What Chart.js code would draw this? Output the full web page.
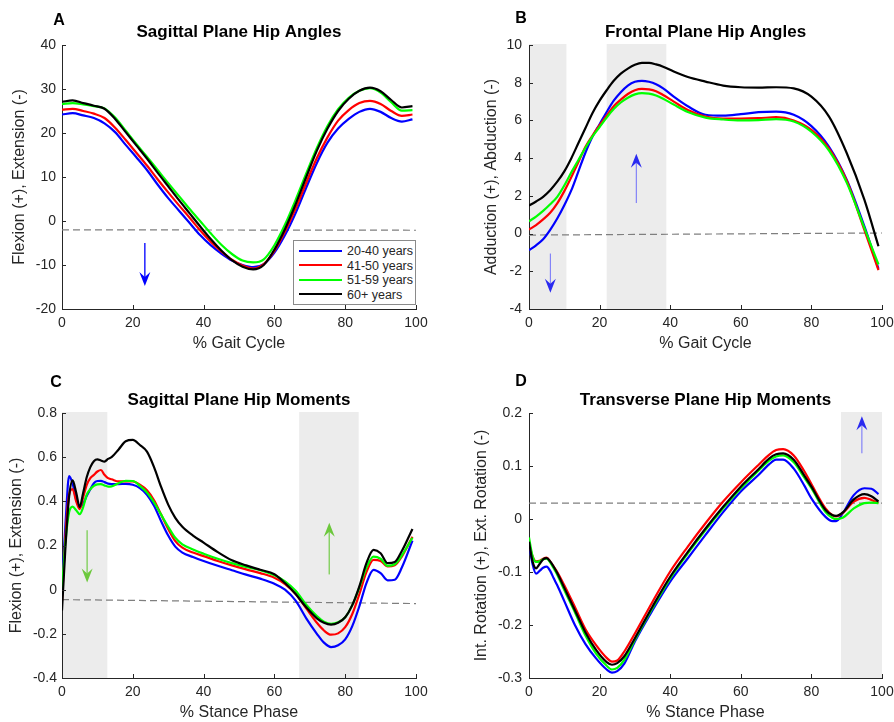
<!DOCTYPE html>
<html>
<head>
<meta charset="utf-8">
<script src="https://cdn.jsdelivr.net/npm/chart.js@4.4.1/dist/chart.umd.min.js"></script>
<style>
  html,body{margin:0;padding:0;background:#fff;}
  body{width:894px;height:722px;position:relative;overflow:hidden;font-family:'Liberation Sans',Arial,Helvetica,sans-serif;}
  .pane{position:absolute;width:447px;height:361px;}
  .pane canvas{display:block;}
  .letter{position:absolute;font-weight:bold;font-size:16px;color:#000;transform:translate(-50%,-50%);line-height:1;}
  .legend{position:absolute;left:293px;top:240px;width:123px;height:65px;box-sizing:border-box;border:1px solid #8a8a8a;background:#fff;padding-top:3px;font-size:12.5px;color:#262626;}
  .legend .row{height:14.5px;line-height:14.5px;white-space:nowrap;}
  .legend .sw{display:inline-block;width:43px;height:2px;vertical-align:middle;margin:0 5px 0 5px;position:relative;top:-1px;}
</style>
</head>
<body>
<div class="pane" style="left:0;top:0"><canvas id="cA" width="447" height="361"></canvas></div>
<div class="pane" style="left:447px;top:0"><canvas id="cB" width="447" height="361"></canvas></div>
<div class="pane" style="left:0;top:361px"><canvas id="cC" width="447" height="361"></canvas></div>
<div class="pane" style="left:447px;top:361px"><canvas id="cD" width="447" height="361"></canvas></div>

<div class="letter" style="left:59px;top:20px">A</div>
<div class="letter" style="left:521px;top:18px">B</div>
<div class="letter" style="left:56px;top:382px">C</div>
<div class="letter" style="left:521px;top:381px">D</div>

<div class="legend" id="legend"></div>

<script>
// ---------------- data ----------------
const groupLabels = ['20-40 years', '41-50 years', '51-59 years', '60+ years'];
const groupColors = ['#0000ff', '#ff0000', '#00ff00', '#000000'];

// A: Sagittal Plane Hip Angles (% gait cycle)
const xA = [0,3,6,9,12,15,18,21,24,27,30,33,36,39,42,45,48,51,54,57,60,63,66,69,72,75,78,81,84,87,90,93,96,99];
const sagAng_20_40 = [24.2,24.5,24.0,23.4,22.2,20.2,17.3,14.5,11.6,8.3,5.2,2.4,-0.4,-3.2,-5.5,-7.4,-9.0,-10.0,-10.5,-9.8,-7.2,-3.2,1.8,7.6,13.2,17.8,21.0,23.2,24.8,25.5,24.8,23.4,22.6,23.1];
const sagAng_41_50 = [25.3,25.5,25.0,24.4,23.4,21.2,18.4,15.5,12.6,9.5,6.5,3.6,0.8,-2.1,-4.7,-6.9,-8.8,-10.1,-10.8,-9.8,-6.8,-2.4,2.8,8.7,14.3,19.0,22.8,25.2,26.8,27.3,26.6,25.0,23.9,24.2];
const sagAng_51_59 = [26.6,26.8,26.5,26.1,25.6,23.5,20.5,17.5,14.6,11.6,8.6,5.7,2.8,0.0,-2.8,-5.4,-7.5,-9.0,-9.4,-8.7,-5.5,-0.8,4.8,10.8,16.6,21.6,25.4,28.0,29.6,30.2,29.2,27.0,25.1,25.2];
const sagAng_60p   = [27.1,27.4,26.8,26.2,25.5,23.2,20.2,17.2,14.2,11.0,7.9,4.8,1.8,-1.2,-4.1,-6.7,-8.9,-10.4,-11.0,-10.0,-6.5,-1.8,3.8,10.0,16.0,21.0,25.0,27.8,29.6,30.3,29.5,27.5,25.8,26.1];
const refA_x = [0, 100], refA_y = [-2.0, -2.1];
const shadeA = [];
const arrowsA = [[23.4, -5.0, -14.8]];

// B: Frontal Plane Hip Angles
const xB = [0,2,4,6,8,10,12,14,16,18,20,22,24,26,28,30,32,34,36,38,41,45,50,55,60,65,70,75,80,85,90,95,99];
const froAng_20_40 = [-0.88,-0.62,-0.3,0.2,0.8,1.5,2.3,3.3,4.3,5.15,5.8,6.45,7.05,7.5,7.85,8.05,8.1,8.05,7.92,7.7,7.26,6.75,6.3,6.25,6.33,6.44,6.47,6.3,5.7,4.6,2.86,0.39,-1.87];
const froAng_41_50 = [0.21,0.45,0.75,1.1,1.6,2.25,3.0,3.8,4.6,5.2,5.75,6.25,6.75,7.1,7.4,7.6,7.67,7.65,7.55,7.35,7.0,6.55,6.2,6.1,6.1,6.12,6.17,6.0,5.5,4.5,2.8,0.2,-1.94];
const froAng_51_59 = [0.65,0.9,1.2,1.55,1.95,2.55,3.25,3.9,4.55,5.15,5.65,6.15,6.6,6.95,7.2,7.38,7.45,7.42,7.32,7.15,6.84,6.45,6.15,6.05,6.0,6.02,6.07,5.94,5.4,4.4,2.7,0.3,-1.64];
const froAng_60p   = [1.48,1.7,1.95,2.3,2.75,3.3,4.0,4.8,5.6,6.4,7.05,7.6,8.1,8.48,8.75,8.95,9.05,9.05,8.97,8.85,8.59,8.3,8.06,7.85,7.76,7.74,7.76,7.7,7.26,6.2,4.27,1.8,-0.67];
const refB_x = [0, 100], refB_y = [-0.08, 0.03];
const shadeB = [[0, 10.6], [22, 38.9]];
const arrowsB = [[6.05, -1.06, -3.14], [30.4, 1.62, 4.23]];

// C: Sagittal Plane Hip Moments (% stance phase)
const xC = [0,1,2,3,4,5,6,7,8,9,10,11,12,13,14,16,18,20,22,24,26,28,30,32,34,37,40,44,48,52,56,60,63,66,69,72,74,76,78,80,82,84,86,88,90,92,94,96,99];
const sagMom_20_40 = [0.02,0.3,0.514,0.48,0.41,0.373,0.39,0.425,0.455,0.482,0.492,0.493,0.487,0.48,0.478,0.478,0.479,0.475,0.46,0.43,0.38,0.31,0.245,0.195,0.168,0.148,0.13,0.108,0.088,0.068,0.05,0.027,0.0,-0.05,-0.13,-0.2,-0.24,-0.26,-0.252,-0.225,-0.165,-0.075,0.03,0.09,0.075,0.042,0.045,0.1,0.222];
const sagMom_41_50 = [-0.05,0.25,0.43,0.455,0.4,0.365,0.42,0.475,0.505,0.52,0.535,0.542,0.52,0.505,0.5,0.49,0.49,0.49,0.475,0.45,0.405,0.34,0.275,0.22,0.19,0.168,0.152,0.13,0.11,0.092,0.075,0.054,0.025,-0.02,-0.085,-0.15,-0.185,-0.204,-0.198,-0.17,-0.11,-0.02,0.08,0.135,0.13,0.105,0.11,0.15,0.24];
const sagMom_51_59 = [0.0,0.22,0.35,0.376,0.36,0.342,0.375,0.43,0.455,0.47,0.477,0.478,0.472,0.467,0.468,0.482,0.493,0.492,0.47,0.44,0.395,0.34,0.285,0.235,0.205,0.182,0.163,0.14,0.12,0.103,0.088,0.065,0.038,-0.005,-0.068,-0.12,-0.145,-0.155,-0.148,-0.125,-0.07,0.01,0.1,0.15,0.14,0.108,0.115,0.155,0.235];
const sagMom_60p   = [-0.094,0.2,0.42,0.495,0.44,0.374,0.44,0.51,0.555,0.582,0.59,0.585,0.58,0.592,0.6,0.635,0.672,0.678,0.655,0.625,0.555,0.465,0.385,0.325,0.285,0.245,0.213,0.17,0.133,0.11,0.09,0.07,0.03,-0.02,-0.08,-0.13,-0.15,-0.158,-0.15,-0.125,-0.07,0.015,0.12,0.18,0.165,0.12,0.125,0.175,0.275];
const refC_x = [0, 100], refC_y = [-0.045, -0.063];
const shadeC = [[0, 12.8], [67, 83.8]];
const arrowsC = [[7.1, 0.269, 0.032], [75.5, 0.069, 0.303]];

// D: Transverse Plane Hip Moments
const xD = [0,1,2,3,4,5,6,7,8,10,13,16,19,22,23.5,25,27,30,35,40,45,50,55,60,65,68,70,72,75,78,80,84,86,87,89,92,95,97,99];
const trnMom_20_40 = [-0.046,-0.085,-0.103,-0.098,-0.092,-0.09,-0.098,-0.112,-0.125,-0.155,-0.2,-0.236,-0.263,-0.284,-0.29,-0.287,-0.273,-0.231,-0.172,-0.118,-0.074,-0.03,0.013,0.052,0.083,0.103,0.112,0.112,0.095,0.063,0.039,0.004,-0.004,-0.004,0.012,0.045,0.058,0.057,0.047];
const trnMom_41_50 = [-0.046,-0.07,-0.08,-0.079,-0.075,-0.073,-0.08,-0.09,-0.1,-0.125,-0.166,-0.208,-0.238,-0.262,-0.269,-0.267,-0.25,-0.216,-0.156,-0.099,-0.052,-0.008,0.033,0.069,0.102,0.121,0.13,0.132,0.12,0.09,0.066,0.02,0.007,0.005,0.012,0.033,0.04,0.036,0.03];
const trnMom_51_59 = [-0.035,-0.07,-0.081,-0.08,-0.076,-0.075,-0.082,-0.093,-0.105,-0.134,-0.176,-0.22,-0.254,-0.277,-0.284,-0.281,-0.266,-0.228,-0.168,-0.112,-0.065,-0.021,0.02,0.058,0.091,0.11,0.118,0.12,0.107,0.078,0.058,0.013,0.002,0.0,0.003,0.02,0.03,0.031,0.03];
const trnMom_60p   = [-0.043,-0.08,-0.093,-0.085,-0.076,-0.074,-0.08,-0.09,-0.102,-0.13,-0.172,-0.214,-0.247,-0.27,-0.275,-0.272,-0.259,-0.225,-0.165,-0.109,-0.062,-0.018,0.023,0.061,0.094,0.114,0.122,0.124,0.112,0.082,0.061,0.017,0.007,0.006,0.013,0.037,0.047,0.043,0.033];
const refD_x = [0, 100], refD_y = [0.03, 0.03];
const shadeD = [[88.4, 100]];
const arrowsD = [[94.3, 0.124, 0.194]];

// axis tick settings
const xTickStep = 20;

// ---------------- rendering ----------------
Chart.defaults.font.family = "'Liberation Sans', Arial, Helvetica, sans-serif";
Chart.defaults.color = '#262626';

const pts = (xs, ys) => xs.map((x, i) => ({x: x, y: ys[i]}));
const fmt = v => String(Number(Number(v).toFixed(3)));

const decor = {
  id: 'decor',
  beforeDraw(chart, args, opts) {
    const {ctx, chartArea: {top, bottom}, scales: {x}} = chart;
    ctx.save();
    ctx.fillStyle = '#ececec';
    (opts.shades || []).forEach(([a, b]) => {
      const x0 = x.getPixelForValue(a), x1 = x.getPixelForValue(b);
      ctx.fillRect(x0, top - 1, x1 - x0, bottom - top + 1);
    });
    ctx.restore();
  },
  afterDatasetsDraw(chart, args, opts) {
    const {ctx, scales: {x, y}} = chart;
    ctx.save();
    (opts.arrows || []).forEach(([ax, from, to]) => {
      const px = x.getPixelForValue(ax);
      const p0 = y.getPixelForValue(from), p1 = y.getPixelForValue(to);
      const dir = p1 > p0 ? 1 : -1;
      const L = 14, W = 11, notch = 9;
      ctx.strokeStyle = opts.lineColor;
      ctx.lineWidth = opts.lineWidth;
      ctx.beginPath();
      ctx.moveTo(px, p0);
      ctx.lineTo(px, p1 - dir * notch);
      ctx.stroke();
      ctx.fillStyle = opts.headColor;
      ctx.beginPath();
      ctx.moveTo(px, p1);
      ctx.lineTo(px - W / 2, p1 - dir * L);
      ctx.lineTo(px, p1 - dir * notch);
      ctx.lineTo(px + W / 2, p1 - dir * L);
      ctx.closePath();
      ctx.fill();
    });
    ctx.restore();
  },
  afterDraw(chart) {
    const {ctx, chartArea: {left, bottom}, scales: {x, y}} = chart;
    ctx.save();
    ctx.strokeStyle = '#262626';
    ctx.lineWidth = 1;
    ctx.beginPath();
    y.ticks.forEach(t => {
      const p = Math.round(y.getPixelForValue(t.value)) + 0.5;
      ctx.moveTo(left, p); ctx.lineTo(left + 4, p);
    });
    x.ticks.forEach(t => {
      const p = Math.round(x.getPixelForValue(t.value)) + 0.5;
      ctx.moveTo(p, bottom); ctx.lineTo(p, bottom - 4);
    });
    ctx.stroke();
    ctx.restore();
  }
};

function makeChart(id, c) {
  const datasets = c.series.map((ys, i) => ({
    label: groupLabels[i],
    data: pts(c.xs, ys),
    borderColor: groupColors[i],
    borderWidth: 2.2,
    pointRadius: 0,
    fill: false,
    cubicInterpolationMode: 'monotone',
    order: 3 - i
  }));
  datasets.push({
    label: 'reference',
    data: pts(c.refX, c.refY),
    borderColor: '#7f7f7f',
    borderWidth: 1.2,
    borderDash: [7, 4],
    pointRadius: 0,
    fill: false,
    order: 10
  });
  return new Chart(document.getElementById(id), {
    type: 'line',
    data: {datasets},
    plugins: [decor],
    options: {
      responsive: false,
      animation: false,
      events: [],
      layout: {padding: {left: 0, right: c.padRight, top: 0, bottom: 0}},
      plugins: {
        legend: {display: false},
        tooltip: {enabled: false},
        title: {
          display: true, text: c.title, fullSize: false, color: '#000',
          font: {size: 17, weight: 'bold'},
          padding: {top: c.titleTop, bottom: c.titleBottom}
        },
        decor: {shades: c.shades, arrows: c.arrows, lineColor: c.arrowLine, headColor: c.arrowHead, lineWidth: c.arrowWidth}
      },
      scales: {
        x: {
          type: 'linear', min: 0, max: 100,
          ticks: {stepSize: xTickStep, padding: 6, font: {size: 14}, color: '#262626', maxRotation: 0, callback: fmt},
          grid: {display: false, drawTicks: false},
          border: {display: true, color: '#262626', width: 1},
          title: {display: true, text: c.xTitle, font: {size: 16}, color: '#262626', padding: {top: 0, bottom: c.xTitlePad}},
          afterFit(s) { s.height = c.xH; s.paddingLeft = 0; s.paddingRight = 0; }
        },
        y: {
          type: 'linear', min: c.yMin, max: c.yMax,
          ticks: {stepSize: c.yStep, padding: c.yTickPad, font: {size: 14}, color: '#262626', callback: fmt},
          grid: {display: false, drawTicks: false},
          border: {display: true, color: '#262626', width: 1},
          title: {display: true, text: c.yTitle, font: {size: 16}, color: '#262626', padding: {top: c.yTitlePad, bottom: 0}},
          afterFit(s) { s.width = c.yW; s.paddingTop = 0; s.paddingBottom = 0; }
        }
      }
    }
  });
}

makeChart('cA', {
  xs: xA, series: [sagAng_20_40, sagAng_41_50, sagAng_51_59, sagAng_60p],
  refX: refA_x, refY: refA_y, shades: shadeA, arrows: arrowsA,
  arrowLine: '#1f1fff', arrowHead: '#0000ff', arrowWidth: 1.5,
  title: 'Sagittal Plane Hip Angles', titleTop: 22, titleBottom: 2.6,
  xTitle: '% Gait Cycle', xTitlePad: 8, xH: 52,
  yTitle: 'Flexion (+), Extension (-)', yTitlePad: 10, yW: 62, yTickPad: 6,
  yMin: -20, yMax: 40, yStep: 10, padRight: 31
});
makeChart('cB', {
  xs: xB, series: [froAng_20_40, froAng_41_50, froAng_51_59, froAng_60p],
  refX: refB_x, refY: refB_y, shades: shadeB, arrows: arrowsB,
  arrowLine: 'rgba(70,70,255,0.75)', arrowHead: '#2a2af0', arrowWidth: 1,
  title: 'Frontal Plane Hip Angles', titleTop: 22, titleBottom: 2.6,
  xTitle: '% Gait Cycle', xTitlePad: 8, xH: 52,
  yTitle: 'Adduction (+), Abduction (-)', yTitlePad: 35, yW: 82, yTickPad: 7,
  yMin: -4, yMax: 10, yStep: 2, padRight: 12
});
makeChart('cC', {
  xs: xC, series: [sagMom_20_40, sagMom_41_50, sagMom_51_59, sagMom_60p],
  refX: refC_x, refY: refC_y, shades: shadeC, arrows: arrowsC,
  arrowLine: 'rgba(120,205,80,0.85)', arrowHead: '#6cc83c', arrowWidth: 1.5,
  title: 'Sagittal Plane Hip Moments', titleTop: 29, titleBottom: 2.6,
  xTitle: '% Stance Phase', xTitlePad: 0, xH: 44,
  yTitle: 'Flexion (+), Extension (-)', yTitlePad: 7, yW: 62, yTickPad: 5,
  yMin: -0.4, yMax: 0.8, yStep: 0.2, padRight: 31
});
makeChart('cD', {
  xs: xD, series: [trnMom_20_40, trnMom_41_50, trnMom_51_59, trnMom_60p],
  refX: refD_x, refY: refD_y, shades: shadeD, arrows: arrowsD,
  arrowLine: 'rgba(70,70,255,0.75)', arrowHead: '#2a2af0', arrowWidth: 1,
  title: 'Transverse Plane Hip Moments', titleTop: 29, titleBottom: 2.6,
  xTitle: '% Stance Phase', xTitlePad: 0, xH: 44,
  yTitle: 'Int. Rotation (+), Ext. Rotation (-)', yTitlePad: 25, yW: 82, yTickPad: 7,
  yMin: -0.3, yMax: 0.2, yStep: 0.1, padRight: 12
});

// legend (panel A)
const legendEl = document.getElementById('legend');
groupLabels.forEach((lab, i) => {
  const row = document.createElement('div');
  row.className = 'row';
  const sw = document.createElement('span');
  sw.className = 'sw';
  sw.style.background = groupColors[i];
  row.appendChild(sw);
  row.appendChild(document.createTextNode(lab));
  legendEl.appendChild(row);
});
</script>
</body>
</html>
